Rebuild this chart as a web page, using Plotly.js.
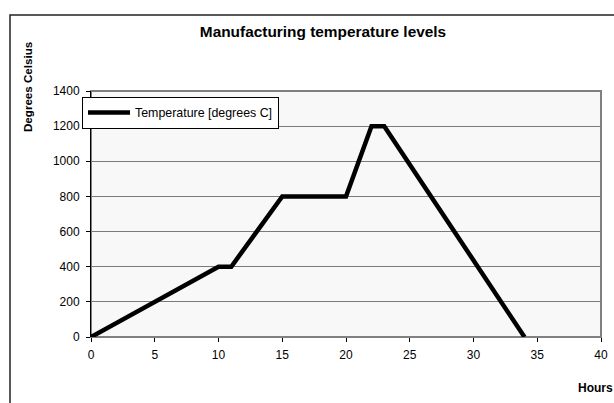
<!DOCTYPE html>
<html><head><meta charset="utf-8">
<script src="https://cdn.plot.ly/plotly-3.0.1.min.js"></script>
<style>html,body{margin:0;padding:0;background:#fff}#chart{width:614px;height:403px}</style>
</head><body><div id="chart"></div>
<script>
const hours = [0, 10, 11, 15, 20, 22, 23, 34];
const temperature = [0, 400, 400, 800, 800, 1200, 1200, 0];
const seriesName = 'Temperature [degrees C]';
const xTicks = [0, 5, 10, 15, 20, 25, 30, 35, 40];
const yTicks = [0, 200, 400, 600, 800, 1000, 1200, 1400];

const font = 'Arial, "Liberation Sans", sans-serif';
const trace = {
  x: hours, y: temperature, type: 'scatter', mode: 'lines', name: seriesName,
  line: {color: '#000', width: 4.5}, showlegend: true
};
const layout = {
  width: 614, height: 403,
  margin: {l: 91, r: 13, t: 91, b: 66},
  paper_bgcolor: '#fff', plot_bgcolor: '#f8f8f8',
  font: {family: font, size: 12, color: '#000'},
  title: {text: '<b>Manufacturing temperature levels</b>', font: {family: font, size: 15.4, color: '#000'},
          x: 323/614, xref: 'container', xanchor: 'center', y: 1 - 32/403, yref: 'container', yanchor: 'middle'},
  xaxis: {range: [0, 40], tickvals: xTicks, ticks: 'outside', ticklen: 4, tickcolor: '#000',
          showgrid: false, zeroline: false, showline: true, linecolor: '#808080', linewidth: 1,
          ticklabelstandoff: 3,
          tickfont: {family: font, size: 12, color: '#000'}, fixedrange: true},
  yaxis: {range: [0, 1400], tickvals: yTicks, ticks: 'outside', ticklen: 4, tickcolor: '#000',
          showgrid: true, gridcolor: '#7a7a7a', gridwidth: 1, zeroline: false,
          showline: true, linecolor: '#000', linewidth: 1, ticklabelstandoff: 4,
          tickfont: {family: font, size: 12, color: '#000'}, fixedrange: true},
  legend: {x: (82-91)/510, y: (337-97)/246, xanchor: 'left', yanchor: 'top', bgcolor: '#fff',
           bordercolor: '#000', borderwidth: 1, itemwidth: 42,
           font: {family: font, size: 12.4, color: '#000'}},
  showlegend: true,
  shapes: [
    {type: 'rect', xref: 'paper', yref: 'paper', x0: 0, x1: 1, y0: 0, y1: 1,
     line: {color: '#808080', width: 2}, layer: 'below'},
    {type: 'rect', xref: 'paper', yref: 'paper', x0: (10-91)/510, x1: 1.2, y0: -0.6, y1: (337-15)/246,
     line: {color: '#222', width: 1.5}, layer: 'below'}
  ],
  annotations: [
    {text: '<b>Degrees Celsius</b>', xref: 'paper', yref: 'paper', x: (28-91)/510, y: (337-87)/246,
     xanchor: 'center', yanchor: 'middle',
     textangle: -90, showarrow: false, font: {family: font, size: 11.6, color: '#000'}},
    {text: '<b>Hours</b>', xref: 'paper', yref: 'paper', x: (595.5-91)/510, y: (337-388)/246,
     xanchor: 'center', yanchor: 'middle',
     showarrow: false, font: {family: font, size: 12, color: '#000'}}
  ]
};
Plotly.newPlot('chart', [trace], layout, {displayModeBar: false, staticPlot: true});
</script></body></html>
